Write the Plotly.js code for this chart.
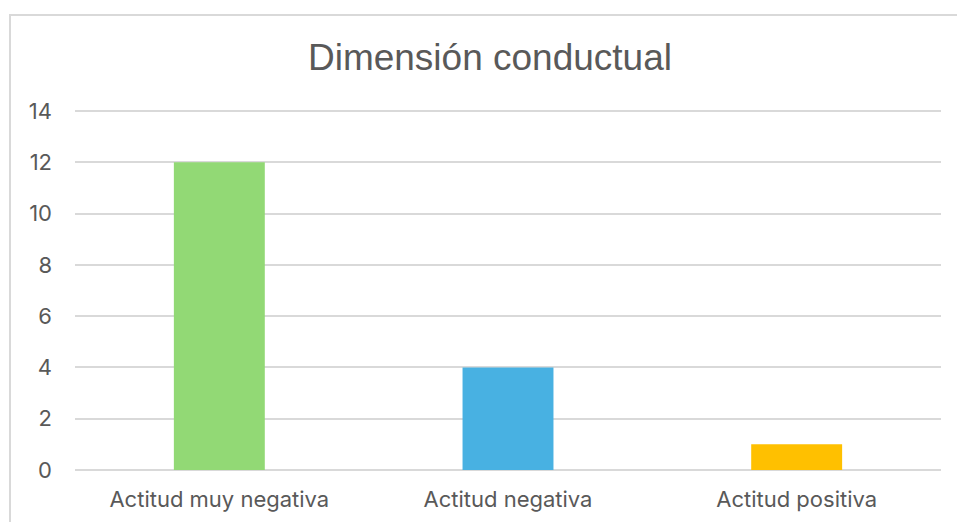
<!DOCTYPE html>
<html>
<head>
<meta charset="utf-8">
<script src="https://cdn.plot.ly/plotly-3.0.1.min.js"></script>
<style>
  html, body { margin: 0; padding: 0; background: #ffffff; }
  #wrap { position: relative; width: 957px; height: 522px; overflow: hidden; }
  #frame { position: absolute; left: 9px; top: 14px; width: 960px; height: 520px;
           border: 2px solid #D9D9D9; box-sizing: border-box; pointer-events: none; }
  #chart { position: absolute; left: 0; top: 0; width: 957px; height: 522px; }
</style>
</head>
<body>
<div id="wrap">
  <div id="chart"></div>
  <div id="frame"></div>
</div>
<script>
const categories = ["Actitud muy negativa", "Actitud negativa", "Actitud positiva"];
const values = [12, 4, 1];
const barColors = ["#92D975", "#48B1E2", "#FFC000"];
const yTicks = [0, 2, 4, 6, 8, 10, 12, 14];
const chartTitle = "Dimensión conductual";

const trace = {
  type: "bar",
  x: categories,
  y: values,
  marker: { color: barColors },
  width: 0.315,
  hoverinfo: "x+y"
};

const layout = {
  width: 957,
  height: 522,
  margin: { l: 75, r: 16, t: 109, b: 52 },
  paper_bgcolor: "rgba(0,0,0,0)",
  plot_bgcolor: "#ffffff",
  showlegend: false,
  title: {
    text: chartTitle,
    font: { family: "Liberation Sans Narrow, Liberation Sans, Arial, sans-serif", size: 37, color: "#595959" },
    x: 0.512,
    xanchor: "center",
    y: 0.89,
    yanchor: "middle"
  },
  xaxis: {
    type: "category",
    showgrid: false,
    showline: false,
    zeroline: false,
    ticks: "",
    tickfont: { family: "Inter, Lato, sans-serif", size: 22, color: "#595959" },
    ticklabelstandoff: 14
  },
  yaxis: {
    range: [0, 14.078],
    tickvals: yTicks,
    ticktext: yTicks.map(String),
    showgrid: true,
    gridcolor: "#D9D9D9",
    gridwidth: 2,
    zeroline: true,
    zerolinecolor: "#D9D9D9",
    zerolinewidth: 2,
    showline: false,
    ticks: "",
    tickfont: { family: "Inter, Lato, sans-serif", size: 22, color: "#595959" },
    ticklabelstandoff: 22
  }
};

Plotly.newPlot("chart", [trace], layout, { displayModeBar: false, staticPlot: true });
</script>
</body>
</html>
